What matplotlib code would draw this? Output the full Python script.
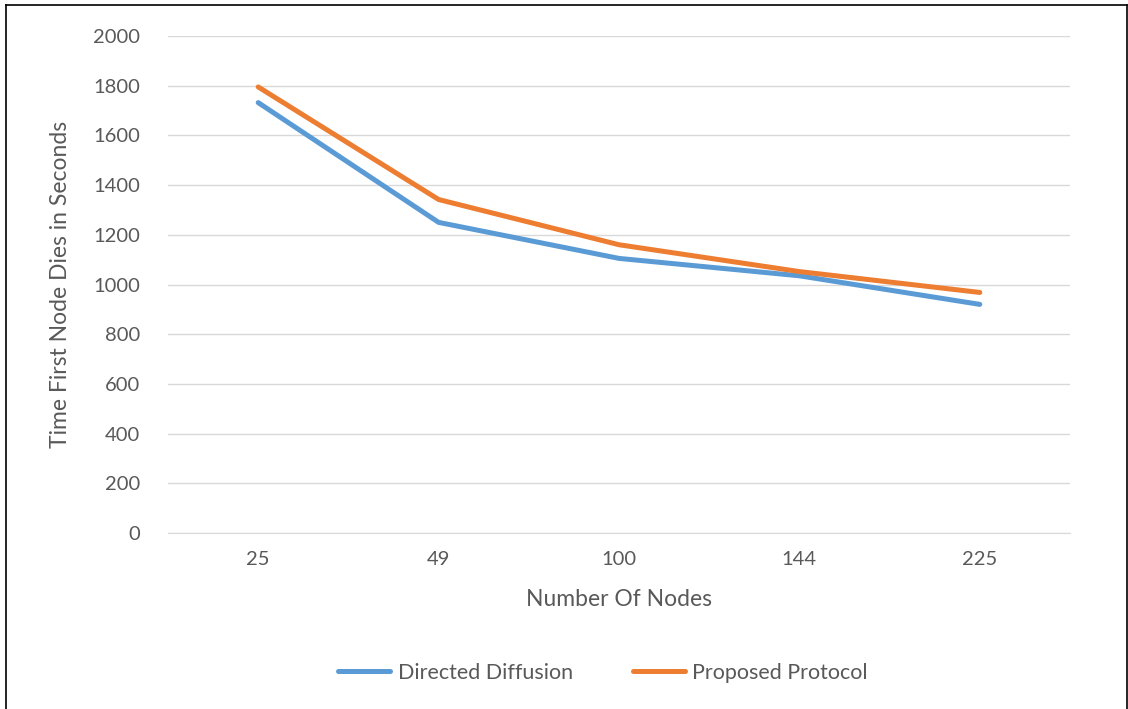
import matplotlib
matplotlib.use("Agg")
import matplotlib.pyplot as plt
from matplotlib.lines import Line2D

nodes = ["25", "49", "100", "144", "225"]
directed_diffusion = [1732, 1250, 1105, 1035, 920]
proposed_protocol = [1795, 1342, 1160, 1052, 968]

plt.rcParams['font.family'] = ['Lato', 'DejaVu Sans']
grey = "#595959"

fig = plt.figure(figsize=(11.28, 7.09), dpi=100)
ax = fig.add_axes([168 / 1128, 1 - 533 / 709, (1070 - 168) / 1128, (533 - 36) / 709])

x = range(len(nodes))
ax.plot(x, directed_diffusion, color="#5b9bd5", lw=3.6, solid_capstyle="round",
        label="Directed Diffusion")
ax.plot(x, proposed_protocol, color="#ed7d31", lw=3.6, solid_capstyle="round",
        label="Proposed Protocol")

ax.set_xlim(-0.5, len(nodes) - 0.5)
ax.set_ylim(0, 2000)
ax.set_yticks(range(0, 2001, 200))
ax.set_xticks(list(x))
ax.set_xticklabels(nodes)
ax.grid(axis="y", color="#d9d9d9", lw=1)
ax.set_axisbelow(True)
for s in ["top", "right", "left"]:
    ax.spines[s].set_visible(False)
ax.spines["bottom"].set_color("#d9d9d9")
ax.tick_params(length=0, colors=grey, labelsize=14.5)
ax.tick_params(axis="y", pad=20)
ax.tick_params(axis="x", pad=13)

ax.set_xlabel("Number Of Nodes", fontsize=16.5, color=grey, labelpad=15)
ax.set_ylabel("Time First Node Dies in Seconds", fontsize=16.5, color=grey, labelpad=16)

ax.legend(loc="center", bbox_to_anchor=((603 - 168) / 902, (709 - 673 - 176) / 497), ncol=2,
          frameon=False, fontsize=15.5, labelcolor=grey, handlelength=2.4,
          handletextpad=0.35, columnspacing=2.8)

# outer black frame
fig.add_artist(Line2D([6 / 1128, 6 / 1128], [0, 1 - 5 / 709], color="black", lw=1.2))
fig.add_artist(Line2D([6 / 1128, 1127 / 1128], [1 - 5 / 709, 1 - 5 / 709], color="black", lw=1.2))
fig.add_artist(Line2D([1127 / 1128, 1127 / 1128], [0, 1 - 5 / 709], color="black", lw=1.2))

fig.savefig("out.png", dpi=100)
